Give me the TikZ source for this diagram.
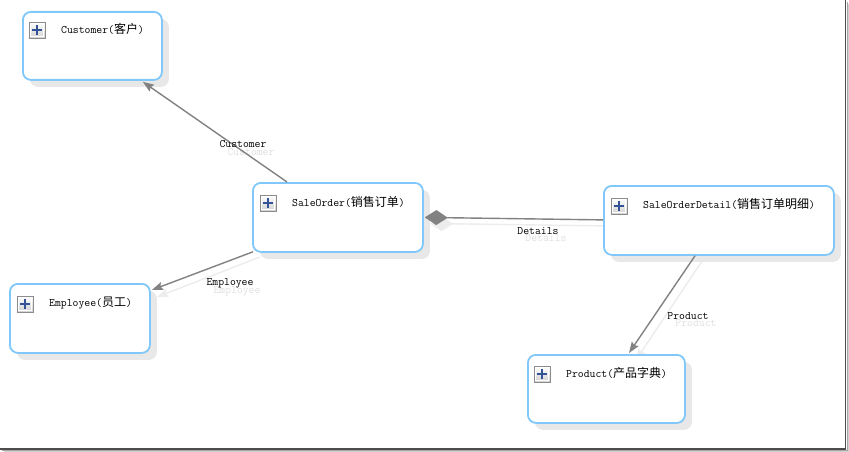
\documentclass[tikz,border=0pt]{standalone}
\usepackage{fontspec}
\newfontfamily\cjk{Noto Sans CJK SC}
\usetikzlibrary{arrows.meta,shadows,calc}
\definecolor{boxblue}{RGB}{128,200,250}
\definecolor{linegray}{RGB}{130,130,130}
\definecolor{shadowgray}{RGB}{232,232,232}
\definecolor{lineshadow}{RGB}{236,236,236}
\definecolor{plusblue}{RGB}{52,82,150}
\newcommand{\enttitle}[2]{{\ttfamily #1(}{\fontsize{12}{13}\cjk #2}{\ttfamily )}}
\begin{document}
\begin{tikzpicture}[x=1pt,y=-1pt,
  entity/.style={draw=boxblue, line width=1.8pt, rounded corners=8pt, fill=white,
    anchor=north west, inner sep=0,
    drop shadow={shadow xshift=7pt, shadow yshift=-7pt, fill=shadowgray, opacity=1}},
  plusicon/.style={draw=black!45, line width=0.8pt, minimum size=16pt, inner sep=0,
    top color=white, bottom color=black!18,
    path picture={
      \draw[white, line width=0.8pt] ([shift={(1.2pt,-1.2pt)}]path picture bounding box.north west) rectangle ([shift={(-1.2pt,1.2pt)}]path picture bounding box.south east);
      \draw[plusblue, line width=1.8pt]
        ([xshift=-5pt]path picture bounding box.center) -- ([xshift=5pt]path picture bounding box.center)
        ([yshift=-5pt]path picture bounding box.center) -- ([yshift=5pt]path picture bounding box.center);}},
  title/.style={anchor=west, inner sep=0, font=\fontsize{11.4}{13}\ttfamily},
  conn/.style={draw=linegray, line width=1.4pt},
  sconn/.style={draw=lineshadow, line width=1.4pt, transform canvas={shift={(7pt,-7pt)}}},
  arr/.style={-{Stealth[length=11pt,width=8pt,inset=1.5pt]}},
  dia/.style={{Diamond[length=23pt,width=15pt]}-},
  elabel/.style={inner sep=0, font=\fontsize{11.4}{13}\ttfamily},
  slabel/.style={inner sep=0, font=\fontsize{11.4}{13}\ttfamily, text=black!12}
]
\useasboundingbox (0,0) rectangle (849,452);
\fill[white] (0,0) rectangle (849,452);

% connector shadows (behind everything)
\coordinate (e-s) at (253,250);
\coordinate (e-e) at (150,290);
\coordinate (d-s) at (423,216.5);
\coordinate (d-e) at (603,219);
\coordinate (p-s) at (695,254);
\coordinate (p-e) at (629,353);
\draw[sconn, arr] (e-s) -- (e-e);
\draw[sconn, dia, fill=lineshadow] (d-s) -- (d-e);
\draw[sconn, arr] (p-s) -- (p-e);

% shadow labels
\node[slabel] (l-cust-s) at (251,152) {Customer};
\node[slabel] (l-emp-s) at (237,291) {Employee};
\node[slabel] (l-det-s) at (546,238) {Details};
\node[slabel] (l-prod-s) at (696,323) {Product};

% entities
\node[entity, minimum width=139pt, minimum height=68pt] (cust) at (22,11) {};
\node[entity, minimum width=170pt, minimum height=69pt] (so) at (252,182) {};
\node[entity, minimum width=230pt, minimum height=69pt] (sod) at (603,185) {};
\node[entity, minimum width=140pt, minimum height=69pt] (emp) at (9,283) {};
\node[entity, minimum width=157pt, minimum height=68pt] (prod) at (527,354) {};

% plus icons
\node[plusicon] (cust-p) at ($(cust.north west)+(15,19)$) {};
\node[plusicon] (so-p) at ($(so.north west)+(16,21)$) {};
\node[plusicon] (sod-p) at ($(sod.north west)+(16,21)$) {};
\node[plusicon] (emp-p) at ($(emp.north west)+(16,21)$) {};
\node[plusicon] (prod-p) at ($(prod.north west)+(15,20)$) {};

% titles
\node[title] (cust-t) at ($(cust.north west)+(39,18)$) {\enttitle{Customer}{客户}};
\node[title] (so-t) at ($(so.north west)+(40,20)$) {\enttitle{SaleOrder}{销售订单}};
\node[title] (sod-t) at ($(sod.north west)+(40,19)$) {\enttitle{SaleOrderDetail}{销售订单明细}};
\node[title] (emp-t) at ($(emp.north west)+(40,20)$) {\enttitle{Employee}{员工}};
\node[title] (prod-t) at ($(prod.north west)+(39,19)$) {\enttitle{Product}{产品字典}};

% connectors
\draw[conn, arr] ($(so.north west)+(35,0)$) -- ($(cust.south east)+(-20,1)$);
\draw[conn, arr] ($(so.south west)+(1,-1)$) -- ($(emp.north east)+(1,7)$);
\draw[conn, dia, fill=linegray] ($(so.east)+(1,0)$) -- ($(sod.west)+(0,-0.5)$);
\draw[conn, arr] ($(sod.south west)+(92,0)$) -- ($(prod.north west)+(102,-1)$);

% connector labels
\node[elabel] (l-cust) at (243,144) {Customer};
\node[elabel] (l-emp) at (230,283) {Employee};
\node[elabel] (l-det) at (538,231) {Details};
\node[elabel] (l-prod) at (688,316) {Product};

% screenshot frame
\draw[black!18, line width=1pt] (848.5,4) -- (848.5,451.5) -- (4,451.5);
\draw[black!35, line width=1pt] (847.3,2) -- (847.3,450.3) -- (2,450.3);
\draw[black!70, line width=1.6pt] (845.6,0) -- (845.6,448.8) -- (0,448.8);
\end{tikzpicture}
\end{document}
